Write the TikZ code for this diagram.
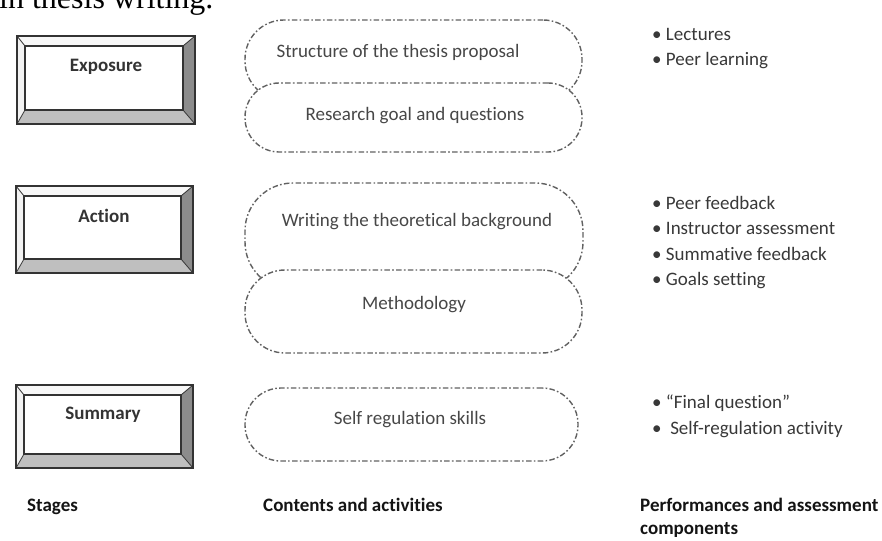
\documentclass[tikz,border=0pt]{standalone}
\usepackage{fontspec}
\setmainfont{Liberation Serif}
\newfontfamily\calfont[Ligatures=NoCommon]{Carlito}
\newcommand\bevelbox[5]{%
 \path (#2,#3) coordinate (#1-a) (#4,#3) coordinate (#1-b) (#4,#5) coordinate (#1-c) (#2,#5) coordinate (#1-d);
 \path ([shift={(8,10)}]#1-a) coordinate (#1-ia) ([shift={(-12,10)}]#1-b) coordinate (#1-ib) ([shift={(-12,-14)}]#1-c) coordinate (#1-ic) ([shift={(8,-14)}]#1-d) coordinate (#1-id);
 \fill[black!3] (#1-a)--(#1-b)--(#1-ib)--(#1-ia)--cycle;
 \fill[black!5] (#1-a)--(#1-ia)--(#1-id)--(#1-d)--cycle;
 \fill[black!45] (#1-b)--(#1-c)--(#1-ic)--(#1-ib)--cycle;
 \fill[black!25] (#1-d)--(#1-id)--(#1-ic)--(#1-c)--cycle;
 \draw[boxline] (#1-a) rectangle (#1-c);
 \draw[boxline] (#1-ia) rectangle (#1-ic);
 \draw[boxline,line width=0.8pt] (#1-a)--(#1-ia) (#1-b)--(#1-ib) (#1-c)--(#1-ic) (#1-d)--(#1-id);
}
\begin{document}
\begin{tikzpicture}[x=1pt,y=-1pt,
  boxline/.style={draw=black!80, line width=1.4pt},
  lbl/.style={font=\calfont\bfseries\fontsize{19}{22}\selectfont, text=black!80},
  ctext/.style={font=\calfont\fontsize{19}{22}\selectfont, text=black!72},
  btext/.style={font=\calfont\fontsize{19}{22}\selectfont, text=black!78, anchor=base west, inner sep=0pt},
  head/.style={font=\calfont\bfseries\fontsize{19}{22}\selectfont, text=black!92, anchor=base west, inner sep=0pt},
  blob/.style={draw=black!62, line width=1.4pt, dash pattern=on 5.5pt off 2.3pt on 1.6pt off 2.3pt, inner sep=0pt},
]
\useasboundingbox (0,0) rectangle (882,540);

% cut-off caption line at top
\node[anchor=base west, inner sep=0pt, font=\fontsize{32}{36}\selectfont] (cap) at (-1,9) {in thesis writing.};

% stage boxes
\bevelbox{exp}{17}{36}{195}{124}
\node[lbl] (expl) at (106,67) {Exposure};
\bevelbox{act}{16}{186}{193}{273}
\node[lbl] (actl) at (104,216) {Action};
\bevelbox{sum}{16}{385}{193}{468}
\node[lbl] (suml) at (103,415) {Summary};

% content blobs
\node[blob, rounded corners=39pt, minimum width=337pt, minimum height=80pt] (s1) at (413.5,60) {};
\node[ctext] (t1) at (398,52) {Structure of the thesis proposal};
\node[blob, rounded corners=34pt, fill=white, minimum width=337pt, minimum height=69pt] (s2) at (413.5,117.5) {};
\node[ctext] (t2) at (415,116) {Research goal and questions};

\node[blob, rounded corners=48pt, minimum width=338pt, minimum height=107pt] (s3) at (414,236.5) {};
\node[ctext] (t3) at (417,222) {Writing the theoretical background};
\node[blob, rounded corners=40pt, fill=white, minimum width=337pt, minimum height=83pt] (s4) at (413.5,311.5) {};
\node[ctext] (t4) at (414,305) {Methodology};

\node[blob, rounded corners=36pt, minimum width=333pt, minimum height=73pt] (s5) at (411.5,424.5) {};
\node[ctext] (t5) at (410,420) {Self regulation skills};

% performance bullets
\node[btext] (b1) at (652,41) {• Lectures};
\node[btext] (b2) at (652,66) {• Peer learning};
\node[btext] (b3) at (652,209) {• Peer feedback};
\node[btext] (b4) at (652,234.5) {• Instructor assessment};
\node[btext] (b5) at (652,260) {• Summative feedback};
\node[btext] (b6) at (652,285.5) {• Goals setting};
\node[btext] (b7) at (652,408) {• “Final question”};
\node[btext] (b8) at (652,434) {•\ \ Self-regulation activity};

% column headings
\node[head] (h1) at (27,511) {Stages};
\node[head] (h2) at (263,511) {Contents and activities};
\node[head] (h3) at (640,511) {Performances and assessment};
\node[head] (h4) at (640,534) {components};
\end{tikzpicture}
\end{document}
